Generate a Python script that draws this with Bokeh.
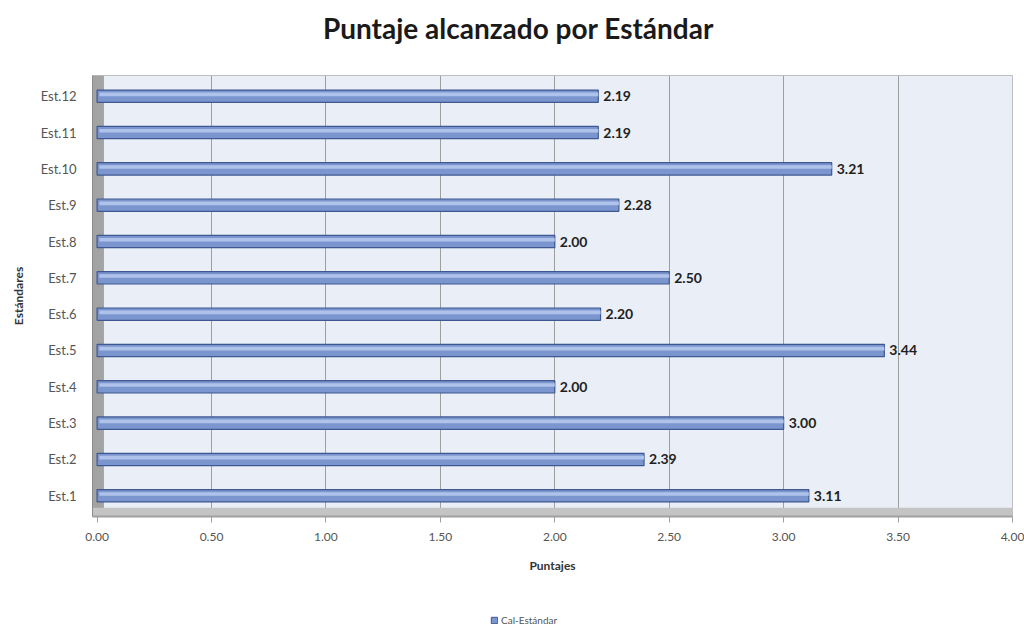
from bokeh.plotting import figure
from bokeh.layouts import column
from bokeh.models import (ColumnDataSource, FactorRange, Range1d, FixedTicker,
                          NumeralTickFormatter, BoxAnnotation, Legend, LegendItem)
from bokeh.transform import dodge
from bokeh.core.properties import value
from bokeh.embed import file_html
from bokeh.resources import INLINE

categories = ["Est.1", "Est.2", "Est.3", "Est.4", "Est.5", "Est.6",
              "Est.7", "Est.8", "Est.9", "Est.10", "Est.11", "Est.12"]
scores = [3.11, 2.39, 3.00, 2.00, 3.44, 2.20, 2.50, 2.00, 2.28, 3.21, 2.19, 2.19]
score_labels = [f"{v:.2f}" for v in scores]
x_ticks = [0.0, 0.5, 1.0, 1.5, 2.0, 2.5, 3.0, 3.5, 4.0]
series_name = "Cal-Estándar"
chart_title = "Puntaje alcanzado por Estándar"

src = ColumnDataSource(dict(cat=categories, val=scores, lab=score_labels))

FONT = "Lato"
BAR_FILL = "#7B96CF"
BAR_LINE = "#3F5891"


def strip(h, left=0):
    f = figure(width=1024, height=h, output_backend="svg", toolbar_location=None,
               x_range=Range1d(0, 1), y_range=Range1d(0, 1),
               x_axis_type=None, y_axis_type=None,
               min_border_left=left, min_border_right=0, min_border_top=0,
               min_border_bottom=0)
    f.outline_line_color = None
    f.background_fill_color = "white"
    f.border_fill_color = "white"
    f.grid.visible = False
    return f


# Title strip
top = strip(75)
top.text(x=[0.463], y=[0.64], text=[chart_title], text_align="center",
         text_baseline="middle", text_font=value(FONT), text_font_size="28px",
         text_font_style="bold", text_color="#1A1A1A")

# Main chart
p = figure(width=1024, height=525, output_backend="svg", toolbar_location=None,
           y_range=FactorRange(factors=categories, range_padding=0.07,
                               range_padding_units="absolute"),
           x_range=Range1d(-0.02, 4.0),
           min_border_left=92, min_border_right=12, min_border_top=0,
           min_border_bottom=84)
p.title.visible = False
p.background_fill_color = "#EAEEF6"
p.border_fill_color = "white"
p.outline_line_color = "#BFBFBF"

# 3D-like walls
p.add_layout(BoxAnnotation(left=-0.02, right=0.03, fill_color="#A3A3A3",
                           fill_alpha=1.0, line_color=None, level="underlay"))
p.add_layout(BoxAnnotation(top=0.17, fill_color="#C4C4C4",
                           fill_alpha=1.0, line_color=None, level="underlay"))

# Bars
r = p.hbar(y="cat", right="val", left=0, height=0.34, source=src,
           fill_color=BAR_FILL, line_color=BAR_LINE, line_width=1.2)
p.hbar(y=dodge("cat", 0.05, range=p.y_range), right="val", left=0.01,
       height=0.1, source=src, fill_color="#AFC2E9", line_color=None)

# Value labels
p.text(x="val", y="cat", text="lab", source=src, x_offset=5,
       text_baseline="middle", text_align="left", text_font=value(FONT),
       text_font_size="14px", text_font_style="bold", text_color="#1F1F1F")

# Axes
p.xaxis.ticker = FixedTicker(ticks=x_ticks)
p.xaxis.formatter = NumeralTickFormatter(format="0.00")
p.xaxis.axis_label = "Puntajes"
p.xaxis.axis_label_text_font = FONT
p.xaxis.axis_label_text_font_size = "12px"
p.xaxis.axis_label_text_font_style = "bold"
p.xaxis.axis_label_text_color = "#333333"
p.xaxis.axis_label_standoff = 14
p.xaxis.major_label_text_font = FONT
p.xaxis.major_label_text_font_size = "12px"
p.xaxis.major_label_text_color = "#555555"
p.xaxis.major_label_standoff = 10
p.xaxis.major_tick_out = 6
p.xaxis.major_tick_in = 0
p.xaxis.major_tick_line_color = "#A0A0A0"
p.xaxis.minor_tick_line_color = None
p.xaxis.axis_line_color = "#A0A0A0"
p.xaxis.axis_line_width = 2

p.yaxis.axis_label = "Estándares"
p.yaxis.axis_label_text_font = FONT
p.yaxis.axis_label_text_font_size = "12px"
p.yaxis.axis_label_text_font_style = "bold"
p.yaxis.axis_label_text_color = "#333333"
p.yaxis.axis_label_standoff = 12
p.yaxis.major_label_text_font = FONT
p.yaxis.major_label_text_font_size = "13px"
p.yaxis.major_label_text_color = "#555555"
p.yaxis.major_label_standoff = 10
p.yaxis.major_tick_line_color = None
p.yaxis.axis_line_color = "#8C8C8C"
p.yaxis.axis_line_width = 1

p.xgrid.ticker = FixedTicker(ticks=x_ticks)
p.xgrid.grid_line_color = "#9E9E9E"
p.xgrid.grid_line_width = 1
p.ygrid.grid_line_color = None

# Legend strip
lg = strip(27, left=30)
proxy = lg.hbar(y=[-5], right=[1], height=0.3, fill_color=BAR_FILL,
                line_color=BAR_LINE)
legend = Legend(items=[LegendItem(label=series_name, renderers=[proxy])],
                location=(398, 1), orientation="horizontal",
                label_text_font=FONT, label_text_font_size="10px",
                label_text_color="#555555", glyph_width=8, glyph_height=8,
                label_height=11, padding=2, margin=0, spacing=4, label_standoff=3,
                border_line_color=None, background_fill_alpha=0)
lg.add_layout(legend, "center")

layout = column(top, p, lg, spacing=0)
open("out.html", "w").write(file_html(layout, INLINE))
